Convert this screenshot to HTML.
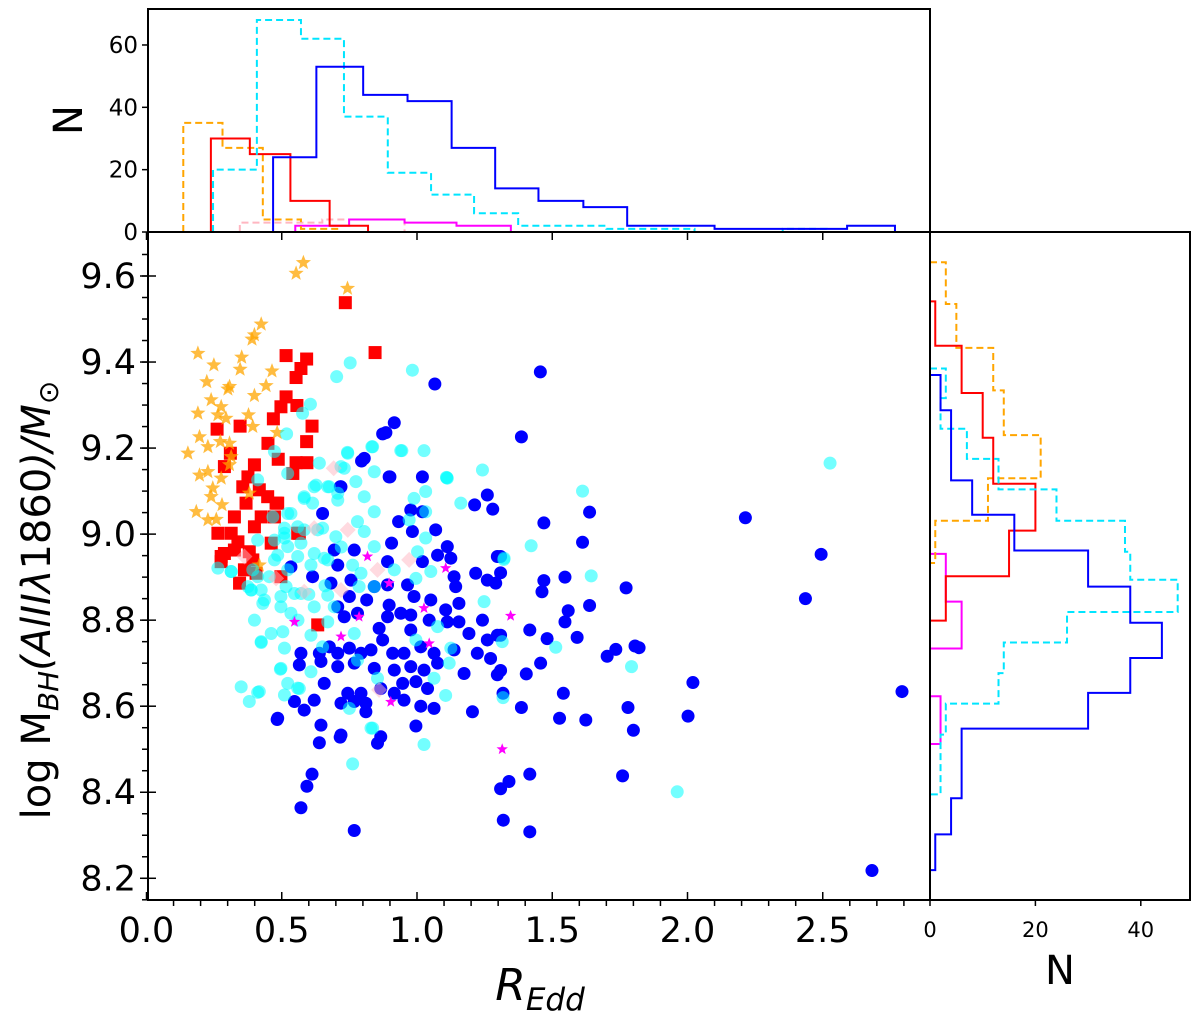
<!DOCTYPE html>
<html><head><meta charset="utf-8"><style>
html,body{margin:0;padding:0;background:#fff;}
svg{display:block;font-family:"DejaVu Sans","Liberation Sans",sans-serif;}
</style></head><body>
<svg id="chart" width="1200" height="1013" viewBox="0 0 1200 1013" xmlns="http://www.w3.org/2000/svg">
<g id="marks"></g>
<g id="hists"></g>
<g id="axes"></g>
</svg>
<script>
// ---- scatter data [R_Edd, logM] ----
const bluePts=[[1.456,9.377],[1.386,9.226],[1.638,9.051],[1.469,9.026],[2.214,9.038],[1.612,8.981],[2.494,8.953],[1.469,8.892],[1.547,8.900],[1.462,8.866],[1.773,8.875],[2.436,8.850],[1.638,8.834],[1.559,8.822],[1.547,8.796],[1.417,8.777],[1.481,8.757],[1.592,8.760],[1.735,8.732],[1.703,8.716],[1.806,8.740],[1.821,8.736],[1.457,8.700],[1.404,8.675],[2.020,8.655],[2.793,8.634],[1.541,8.630],[1.386,8.597],[1.780,8.597],[1.527,8.572],[1.624,8.568],[2.002,8.577],[1.800,8.544],[1.417,8.442],[1.340,8.425],[1.760,8.438],[1.319,8.335],[1.417,8.308],[2.682,8.218],[1.309,8.948],[1.309,8.910],[1.309,8.765],[1.309,8.683],[1.318,8.630],[1.309,8.408],
[0.805,9.176],[0.795,9.170],[1.020,9.133],[1.260,9.091],[1.213,9.068],[1.280,9.058],[0.719,9.110],[0.900,9.133],[0.977,9.056],[1.020,9.052],[0.932,9.029],[0.651,9.048],[0.983,9.006],[1.069,9.010],[0.768,8.963],[0.906,8.979],[1.112,8.971],[1.297,8.948],[1.076,8.951],[1.125,8.944],[1.020,8.936],[0.891,8.936],[0.534,8.924],[0.694,8.963],[0.707,8.928],[1.137,8.901],[1.217,8.909],[1.260,8.893],[1.291,8.886],[0.614,8.901],[0.682,8.886],[0.756,8.893],[0.842,8.878],[0.891,8.882],[0.965,8.882],[1.143,8.878],[0.750,8.855],[0.814,8.847],[0.897,8.835],[0.989,8.855],[1.051,8.847],[1.106,8.824],[1.155,8.839],[0.707,8.831],[0.940,8.816],[0.977,8.812],[0.891,8.808],[1.045,8.800],[1.112,8.796],[1.155,8.796],[1.242,8.800],[0.731,8.808],[0.780,8.816],[0.860,8.781],[0.977,8.777],[1.192,8.769],[1.260,8.754],[1.297,8.765],[0.571,8.723],[0.639,8.723],[0.676,8.738],[0.707,8.723],[0.750,8.735],[0.793,8.723],[0.830,8.731],[0.873,8.754],[0.910,8.723],[0.952,8.723],[1.014,8.738],[1.063,8.723],[1.137,8.731],[1.223,8.723],[1.272,8.711],[0.565,8.696],[0.645,8.704],[0.707,8.692],[0.768,8.700],[0.842,8.688],[0.916,8.684],[0.977,8.692],[1.026,8.684],[1.076,8.700],[1.174,8.676],[1.297,8.673],[0.657,8.653],[0.744,8.630],[0.793,8.630],[0.866,8.641],[0.916,8.630],[0.947,8.653],[0.996,8.657],[1.039,8.641],[0.547,8.611],[0.583,8.591],[0.620,8.614],[0.719,8.607],[0.768,8.611],[0.811,8.587],[0.952,8.614],[1.014,8.600],[1.063,8.595],[1.205,8.587],[0.485,8.572],[0.645,8.556],[0.996,8.554],[0.719,8.533],[0.866,8.529],
[0.483,8.569],[0.571,8.364],[0.593,8.414],[0.612,8.442],[0.768,8.311],[0.639,8.515],[0.716,8.528],[0.854,8.514],[0.811,8.607],[1.066,9.349],[0.916,9.259],[0.873,9.233],[0.885,9.236],[0.897,9.133],[0.716,9.110]];
const cyanPts=[[2.527,9.165],[1.612,9.100],[1.422,8.973],[1.644,8.903],[1.513,8.737],[1.793,8.692],[1.962,8.401],[1.322,8.944],[1.315,8.750],[1.318,8.620],
[0.744,9.188],[0.836,9.203],[0.940,9.194],[1.026,9.194],[0.639,9.165],[0.731,9.153],[0.842,9.145],[1.112,9.130],[1.242,9.149],[0.774,9.122],[0.627,9.114],[0.676,9.110],[1.032,9.099],[0.989,9.083],[1.162,9.072],[0.583,9.083],[0.707,9.079],[0.805,9.087],[0.842,9.052],[0.614,9.072],[0.534,9.048],[0.780,9.029],[1.032,9.052],[0.971,9.033],[0.510,9.014],[0.583,9.010],[0.651,9.014],[0.700,8.994],[0.805,9.006],[1.032,8.991],[0.510,8.991],[0.571,8.979],[0.842,8.971],[1.002,8.959],[0.411,8.986],[0.485,8.951],[0.608,8.928],[0.657,8.944],[0.762,8.928],[0.916,8.917],[1.051,8.913],[0.393,8.917],[0.264,8.921],[0.313,8.913],[0.454,8.901],[0.793,8.909],[0.996,8.897],[0.387,8.870],[0.516,8.878],[0.571,8.862],[0.670,8.858],[0.786,8.878],[0.842,8.878],[0.430,8.839],[0.497,8.831],[0.620,8.831],[0.694,8.831],[0.399,8.800],[0.534,8.816],[0.670,8.796],[1.076,8.785],[1.248,8.843],[0.461,8.769],[0.504,8.773],[0.608,8.765],[0.768,8.769],[0.424,8.750],[0.510,8.735],[0.651,8.738],[0.996,8.754],[1.125,8.735],[0.780,8.707],[0.608,8.680],[0.497,8.688],[1.119,8.700],[1.063,8.665],[0.854,8.665],[0.350,8.645],[0.417,8.634],[0.380,8.611],[0.522,8.653],[0.565,8.641],[1.106,8.625],[0.750,8.595],[0.830,8.549],[0.510,8.626],
[0.753,9.398],[0.703,9.366],[0.983,9.381],[0.606,9.302],[0.577,9.281],[0.518,9.233],[0.743,9.190],[0.833,9.203],[0.944,9.194],[1.110,9.131],[1.321,8.941],[0.762,8.466],[1.026,8.511],[0.836,8.549],[0.424,8.748],[0.411,8.632],[0.495,8.686],[0.559,8.642],[1.109,9.132],
[0.522,9.048],[0.559,9.017],[0.510,9.002],[0.473,8.986],[0.522,8.971],[0.559,8.948],[0.473,8.940],[0.522,8.917],[0.424,8.870],[0.387,8.870],[0.497,8.855],[0.547,8.862],[0.436,8.847],[0.633,9.010],[0.620,8.955],[0.670,8.940],[0.313,8.913],[0.375,8.878],[0.411,8.901],[0.467,9.040],[0.411,9.126],[0.473,9.192],[0.522,9.141],[0.583,9.087],[0.620,9.110],[0.670,9.110],[0.707,9.095],[0.719,9.157],[0.60,8.86],[0.66,8.88],[0.72,8.97],[0.56,8.80]];
const redPts=[[0.735,9.538],[0.845,9.422],[0.516,9.415],[0.592,9.407],[0.571,9.385],[0.553,9.364],[0.516,9.319],[0.497,9.296],[0.556,9.299],[0.469,9.268],[0.612,9.251],[0.346,9.251],[0.261,9.244],[0.449,9.211],[0.592,9.215],[0.310,9.188],[0.487,9.174],[0.553,9.166],[0.593,9.166],[0.399,9.161],[0.288,9.157],[0.541,9.141],[0.375,9.133],[0.356,9.110],[0.417,9.103],[0.448,9.087],[0.479,9.072],[0.368,9.072],[0.325,9.040],[0.424,9.040],[0.399,9.017],[0.264,9.002],[0.313,9.002],[0.338,8.982],[0.461,8.979],[0.565,9.002],[0.380,8.959],[0.288,8.955],[0.276,8.936],[0.393,8.940],[0.362,8.917],[0.405,8.909],[0.344,8.886],[0.497,8.901],[0.633,8.789],[0.276,8.948],[0.325,8.963],[0.485,9.072],[0.473,9.040],[0.559,9.002]];
const orangePts=[[0.580,9.631],[0.553,9.606],[0.743,9.571],[0.424,9.488],[0.399,9.463],[0.390,9.453],[0.190,9.420],[0.352,9.411],[0.249,9.393],[0.346,9.383],[0.464,9.379],[0.223,9.354],[0.442,9.345],[0.307,9.343],[0.301,9.337],[0.399,9.322],[0.239,9.312],[0.276,9.296],[0.190,9.281],[0.377,9.277],[0.264,9.277],[0.294,9.269],[0.393,9.250],[0.483,9.236],[0.196,9.226],[0.273,9.215],[0.307,9.211],[0.227,9.203],[0.153,9.188],[0.313,9.180],[0.307,9.161],[0.196,9.137],[0.227,9.145],[0.276,9.130],[0.245,9.107],[0.239,9.087],[0.279,9.068],[0.184,9.052],[0.227,9.033],[0.258,9.034],[0.380,9.095],[0.417,8.928]];
const magentaPts=[[0.817,8.948],[0.897,8.886],[1.106,8.921],[1.026,8.828],[1.045,8.746],[0.903,8.610],[0.547,8.796],[0.786,8.808],[0.719,8.762],[1.346,8.810],[1.315,8.500]];
const pinkPts=[[0.692,9.153],[0.620,9.014],[0.744,9.010],[0.971,8.940],[0.854,8.917],[0.719,8.870],[0.583,8.866],[0.479,8.897],[0.362,8.948],[0.860,8.638]];

// ---- top histogram (R_Edd) bin edges & counts ----
const topOrangeEdges=[0.136,0.281,0.430,0.571,0.713];
const topOrangeCounts=[35,27,4,1];
const topRedEdges=[0.238,0.382,0.532,0.677,0.819];
const topRedCounts=[30,25,10,2];
const topCyanEdges=[0.246,0.408,0.571,0.730,0.892,1.052,1.211,1.374,1.537,1.700,1.863,2.026,2.189,2.352,2.515];
const topCyanCounts=[20,68,62,37,19,12,6,2,2,1,1,0,0,1];
const topBlueEdges=[0.468,0.628,0.801,0.965,1.128,1.289,1.449,1.615,1.777,1.940,2.100,2.260,2.420,2.590,2.767];
const topBlueCounts=[24,53,44,42,27,14,10,8,2,2,1,1,1,2];
const topPinkEdges=[0.345,0.650,0.954];
const topPinkCounts=[3,4];
const topMagentaEdges=[0.550,0.749,0.954,1.146,1.347];
const topMagentaCounts=[2,4,3,2];

// ---- right histogram (logM) bin edges & counts ----
const rOrangeEdges=[9.632,9.535,9.433,9.334,9.230,9.130,9.031,8.933];
const rOrangeCounts=[3,5,12,14,21,11,1];
const rRedEdges=[9.541,9.438,9.328,9.224,9.117,9.008,8.902,8.799];
const rRedCounts=[1,6,10,12,20,15,3];
const rCyanEdges=[9.385,9.316,9.245,9.175,9.104,9.031,8.959,8.894,8.819,8.748,8.677,8.606,8.534,8.463,8.395];
const rCyanCounts=[3,2,7,13,24,37,38,47,26,14,13,3,2,2];
const rBlueEdges=[9.370,9.288,9.206,9.125,9.045,8.962,8.878,8.794,8.712,8.631,8.548,8.467,8.386,8.302,8.219];
const rBlueCounts=[2,4,4,8,16,30,38,44,38,30,6,6,4,1];
const rMagentaEdges=[8.954,8.843,8.734,8.623,8.512];
const rMagentaCounts=[3,6,0,2];

const xTicks=[0,0.5,1.0,1.5,2.0,2.5];
const xTickLabels=["0.0","0.5","1.0","1.5","2.0","2.5"];
const yTicks=[8.2,8.4,8.6,8.8,9.0,9.2,9.4,9.6];
const yTickLabels=["8.2","8.4","8.6","8.8","9.0","9.2","9.4","9.6"];
const topNTicks=[0,20,40,60];
const rightNTicks=[0,20,40];

// ---- scales ----
const L=148,R=930,T=232,B=900,TT=9,RR=1190;
const X=r=>146.5+270.5*r;
const Y=m=>276+(9.6-m)*430.2;
const HY=n=>232-n*3.117;
const HX=n=>930+n*5.27;

const NS="http://www.w3.org/2000/svg";
function mk(tag,attrs,parent){const e=document.createElementNS(NS,tag);for(const k in attrs)e.setAttribute(k,attrs[k]);parent.appendChild(e);return e;}
const marks=document.getElementById('marks'),hists=document.getElementById('hists'),axes=document.getElementById('axes');

const defs=mk('defs',{},document.getElementById('chart'));
const cp=mk('clipPath',{id:'cmain'},defs);mk('rect',{x:L,y:T,width:R-L,height:B-T},cp);
marks.setAttribute('clip-path','url(#cmain)');

function starPath(cx,cy,ro){const ri=ro*0.42;let d='';for(let i=0;i<10;i++){const a=-Math.PI/2+i*Math.PI/5;const rr=i%2?ri:ro;d+=(i?'L':'M')+(cx+rr*Math.cos(a)).toFixed(1)+','+(cy+rr*Math.sin(a)).toFixed(1);}return d+'Z';}

redPts.forEach(p=>{const e=mk('rect',{x:X(p[0])-6.5,y:Y(p[1])-6.5,width:13,height:13,fill:'#ff0000'},marks);

});
orangePts.forEach(p=>{const e=mk('path',{d:starPath(X(p[0]),Y(p[1]),8),fill:'#ffa500','fill-opacity':0.75},marks);

});
bluePts.forEach(p=>{const e=mk('circle',{cx:X(p[0]),cy:Y(p[1]),r:6.5,fill:'#0000ff'},marks);

});
cyanPts.forEach(p=>{const e=mk('circle',{cx:X(p[0]),cy:Y(p[1]),r:6.5,fill:'#00ffff','fill-opacity':0.55},marks);

});
pinkPts.forEach(p=>{const cx=X(p[0]),cy=Y(p[1]);const e=mk('path',{d:`M${cx},${cy-8}L${cx+8},${cy}L${cx},${cy+8}L${cx-8},${cy}Z`,fill:'#ffb6c1','fill-opacity':0.5},marks);

});
magentaPts.forEach(p=>{const e=mk('path',{d:starPath(X(p[0]),Y(p[1]),6),fill:'#ff00ff'},marks);

});

function topStep(edges,counts,color,dash,name){let d=`M${X(edges[0])},${HY(0)}`;for(let i=0;i<counts.length;i++){d+=`L${X(edges[i])},${HY(counts[i])}L${X(edges[i+1])},${HY(counts[i])}`;}d+=`L${X(edges[edges.length-1])},${HY(0)}`;
const e=mk('path',{d:d,fill:'none',stroke:color,'stroke-width':2,'stroke-dasharray':dash?'7,4':'none'},hists);

}
function rightStep(edges,counts,color,dash,name){let d=`M${HX(0)},${Y(edges[0])}`;for(let i=0;i<counts.length;i++){d+=`L${HX(counts[i])},${Y(edges[i])}L${HX(counts[i])},${Y(edges[i+1])}`;}d+=`L${HX(0)},${Y(edges[edges.length-1])}`;
const e=mk('path',{d:d,fill:'none',stroke:color,'stroke-width':2,'stroke-dasharray':dash?'7,4':'none'},hists);

}
topStep(topPinkEdges,topPinkCounts,'#ffb6c1',true,'top-hist-pink');
topStep(topMagentaEdges,topMagentaCounts,'#ff00ff',false,'top-hist-magenta');
topStep(topOrangeEdges,topOrangeCounts,'#ffa500',true,'top-hist-orange');
topStep(topRedEdges,topRedCounts,'#ff0000',false,'top-hist-red');
topStep(topCyanEdges,topCyanCounts,'#00e5ff',true,'top-hist-cyan');
topStep(topBlueEdges,topBlueCounts,'#0000ff',false,'top-hist-blue');
rightStep(rMagentaEdges,rMagentaCounts,'#ff00ff',false,'right-hist-magenta');
rightStep(rOrangeEdges,rOrangeCounts,'#ffa500',true,'right-hist-orange');
rightStep(rRedEdges,rRedCounts,'#ff0000',false,'right-hist-red');
rightStep(rCyanEdges,rCyanCounts,'#00e5ff',true,'right-hist-cyan');
rightStep(rBlueEdges,rBlueCounts,'#0000ff',false,'right-hist-blue');

[[L,T,R-L,B-T,'main-plot-frame'],[L,TT,R-L,T-TT,'top-hist-frame'],[R,T,RR-R,B-T,'right-hist-frame']].forEach(f=>{const e=mk('rect',{x:f[0],y:f[1],width:f[2],height:f[3],fill:'none',stroke:'#000','stroke-width':2},axes);

});

for(let v=0.1;v<2.9;v+=0.1){const major=Math.abs(v*2-Math.round(v*2))<1e-6;if(!major)mk('line',{x1:X(v),x2:X(v),y1:B,y2:B+6,stroke:'#000','stroke-width':1.5},axes);}
xTicks.forEach((v,i)=>{mk('line',{x1:X(v),x2:X(v),y1:B-8,y2:B,stroke:'#000','stroke-width':1.5},axes);
mk('line',{x1:X(v),x2:X(v),y1:T,y2:T+8,stroke:'#000','stroke-width':1.5},axes);
const t=mk('text',{x:X(v),y:B+42,'text-anchor':'middle','font-size':35,fill:'#000'},axes);t.textContent=xTickLabels[i];

});
for(let v=8.15;v<9.7;v+=0.05){mk('line',{x1:L-6,x2:L,y1:Y(v),y2:Y(v),stroke:'#000','stroke-width':1.5},axes);}
yTicks.forEach((v,i)=>{mk('line',{x1:L-8,x2:L+8,y1:Y(v),y2:Y(v),stroke:'#000','stroke-width':1.5},axes);
const t=mk('text',{x:L-12,y:Y(v)+12,'text-anchor':'end','font-size':35,fill:'#000'},axes);t.textContent=yTickLabels[i];

});
topNTicks.forEach(v=>{mk('line',{x1:L-6,x2:L,y1:HY(v),y2:HY(v),stroke:'#000','stroke-width':1.5},axes);
const t=mk('text',{x:L-10,y:HY(v)+8,'text-anchor':'end','font-size':23,fill:'#000'},axes);t.textContent=String(v);

});
rightNTicks.forEach(v=>{mk('line',{x1:HX(v),x2:HX(v),y1:B,y2:B+6,stroke:'#000','stroke-width':1.5},axes);
const t=mk('text',{x:HX(v),y:B+37,'text-anchor':'middle','font-size':21,fill:'#000'},axes);t.textContent=String(v);

});
</script>
<div style="position:absolute;left:0;top:0;width:1200px;height:1013px;pointer-events:none;">
<svg width="1200" height="1013" style="position:absolute;left:0;top:0" xmlns="http://www.w3.org/2000/svg">
<text x="82" y="120" transform="rotate(-90 82 120)" text-anchor="middle" font-family="DejaVu Sans, Liberation Sans, sans-serif" font-size="40" fill="#000">N</text>
<text x="540" y="1000" text-anchor="middle" font-family="DejaVu Sans, Liberation Sans, sans-serif" font-size="44" fill="#000" font-style="italic">R<tspan font-size="31" dy="10">Edd</tspan></text>
<text x="1060" y="984" text-anchor="middle" font-family="DejaVu Sans, Liberation Sans, sans-serif" font-size="40" fill="#000">N</text>
<text x="50" y="600" transform="rotate(-90 50 600)" text-anchor="middle" font-family="DejaVu Sans, Liberation Sans, sans-serif" font-size="40" fill="#000">log M<tspan font-size="28" dy="8" font-style="italic">BH</tspan><tspan dy="-8" font-style="italic">(AlIIλ</tspan><tspan>1860</tspan><tspan font-style="italic">)/M</tspan><tspan font-size="28" dy="8">⊙</tspan></text>
</svg>
</div>
</body></html>
